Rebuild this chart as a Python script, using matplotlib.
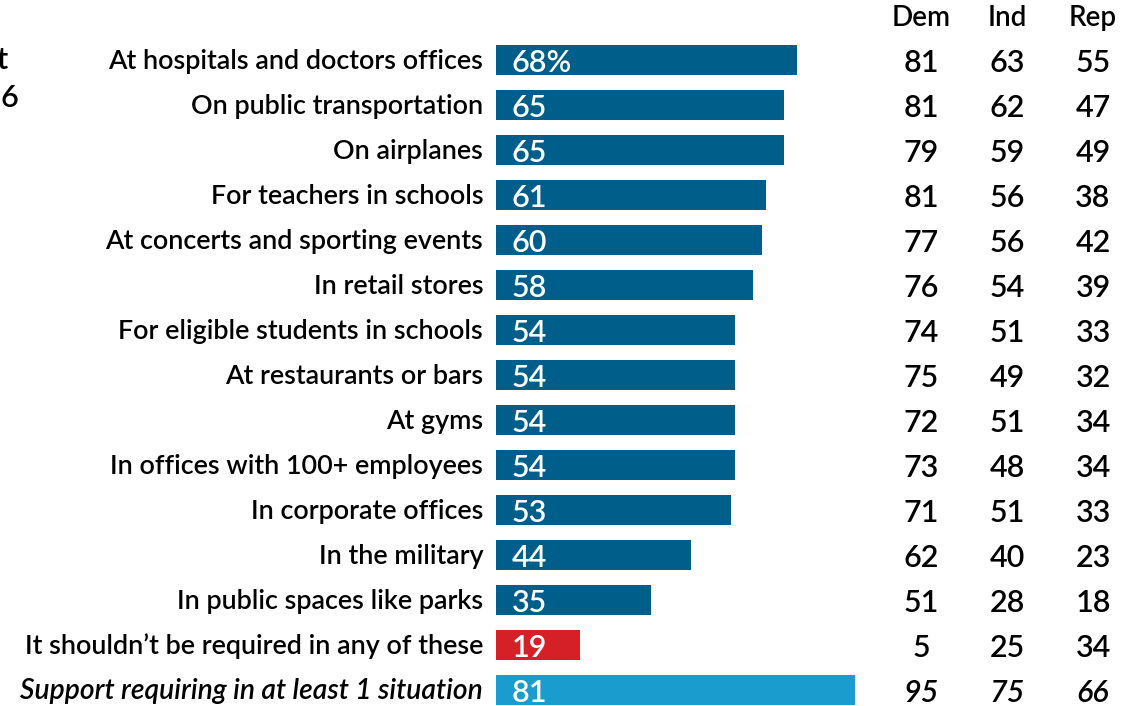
import matplotlib.pyplot as plt

plt.rcParams["font.family"] = ["Lato", "DejaVu Sans"]
plt.rcParams["font.weight"] = "semibold"

labels = ["At hospitals and doctors offices", "On public transportation", "On airplanes",
          "For teachers in schools", "At concerts and sporting events", "In retail stores",
          "For eligible students in schools", "At restaurants or bars", "At gyms",
          "In offices with 100+ employees", "In corporate offices", "In the military",
          "In public spaces like parks", "It shouldn\u2019t be required in any of these",
          "Support requiring in at least 1 situation"]
total = [68, 65, 65, 61, 60, 58, 54, 54, 54, 54, 53, 44, 35, 19, 81]
dem = [81, 81, 79, 81, 77, 76, 74, 75, 72, 73, 71, 62, 51, 5, 95]
ind = [63, 62, 59, 56, 56, 54, 51, 49, 51, 48, 51, 40, 28, 25, 75]
rep = [55, 47, 49, 38, 42, 39, 33, 32, 34, 34, 33, 23, 18, 34, 66]
parties = ["Dem", "Ind", "Rep"]

colors = ["#005f8a"] * 13 + ["#d62027", "#1a9dce"]

fig = plt.figure(figsize=(11.45, 7.06), dpi=100)
# axes from bar start (x=496px) to right edge; 4.43 px per percentage point
ax = fig.add_axes([496 / 1145, 0, 649 / 1145, 1])
ax.set_xlim(0, 649 / 4.43)
ax.set_ylim((706 - 60) / 45, -60 / 45)
ax.axis("off")

rows = range(len(labels))
ax.barh(rows, total, height=0.66, color=colors)

col_x = [(921 - 496) / 4.43, (1007 - 496) / 4.43, (1093 - 496) / 4.43]
for i in rows:
    last = i == len(labels) - 1
    style = "italic" if last else "normal"
    ax.text(-2.9, i + 0.03, labels[i], ha="right", va="center",
            fontsize=20.3 if last else 19.4,
            style=style, color="black", clip_on=False)
    val = str(total[i]) + ("%" if i == 0 else "")
    ax.text(3.6, i + 0.06, val, ha="left", va="center", fontsize=22, color="white")
    for x, v in zip(col_x, [dem[i], ind[i], rep[i]]):
        ax.text(x, i + 0.06, str(v), ha="center", va="center", fontsize=22,
                style=style, color="black")

for x, p in zip(col_x, parties):
    ax.text(x, -0.93, p, ha="center", va="center", fontsize=20, color="black")

# cut-off text at the left edge
fig.text(8 / 1145, 1 - 60 / 706, "t", ha="right", va="center", fontsize=22)
fig.text(18 / 1145, 1 - 98 / 706, "6", ha="right", va="center", fontsize=22)

plt.savefig("out.png", dpi=100)
plt.close()
